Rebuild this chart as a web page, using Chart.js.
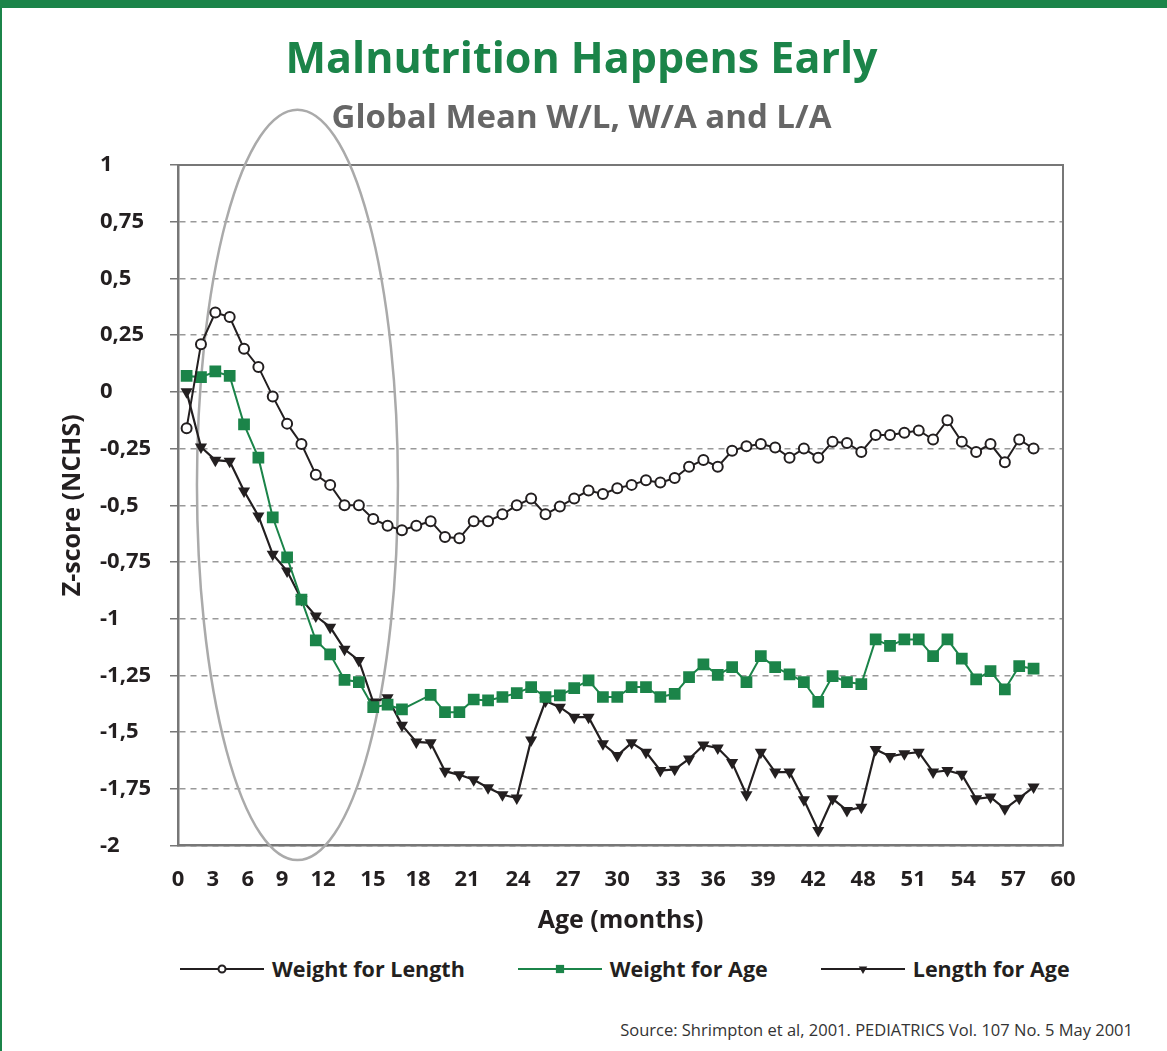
<!DOCTYPE html>
<html>
<head>
<meta charset="utf-8">
<script src="https://cdn.jsdelivr.net/npm/chart.js@4.4.1/dist/chart.umd.min.js"></script>
<style>
  body { margin: 0; background: #fff; font-family: 'Open Sans', sans-serif; }
  #page { position: relative; width: 1167px; height: 1051px; overflow: hidden;
          box-shadow: inset 2px 8px 0 0 #1b8449; }
  #wrap { position: absolute; left: 0; top: 0; width: 1167px; height: 948px; }
  #legend { position: absolute; left: 180px; top: 954px; display: flex; gap: 53px;
            font-weight: 700; font-size: 21.5px; color: #231f20; line-height: 30px; }
  .item { display: flex; align-items: center; }
  .item canvas { margin-right: 8px; }
  #source { position: absolute; right: 34px; top: 1018px; font-size: 16.5px; color: #333; }
</style>
</head>
<body>
<div id="page">
  <div id="wrap"><canvas id="myChart"></canvas></div>
  <div id="legend"></div>
  <div id="source">Source: Shrimpton et al, 2001. PEDIATRICS Vol. 107 No. 5 May 2001</div>
</div>
<script>
const ages = [0, 1, 2, 3, 4, 5, 6, 7, 8, 9, 10, 11, 12, 13, 14, 15, 16, 17, 18, 19,
  20, 21, 22, 23, 24, 25, 26, 27, 28, 29, 30, 31, 32, 33, 34, 35, 36, 37, 38, 39,
  40, 41, 42, 43, 44, 45, 46, 47, 48, 49, 50, 51, 52, 53, 54, 55, 56, 57, 58, 59];

const weightForLength = [-0.16, 0.21, 0.35, 0.33, 0.19, 0.11, -0.02, -0.14, -0.23, -0.365,
  -0.41, -0.50, -0.50, -0.56, -0.59, -0.61, -0.59, -0.57, -0.64, -0.645,
  -0.57, -0.57, -0.54, -0.50, -0.47, -0.54, -0.505, -0.47, -0.435, -0.45,
  -0.425, -0.41, -0.39, -0.40, -0.38, -0.33, -0.30, -0.33, -0.26, -0.24,
  -0.23, -0.245, -0.29, -0.25, -0.29, -0.22, -0.225, -0.265, -0.19, -0.19,
  -0.18, -0.17, -0.21, -0.125, -0.22, -0.265, -0.23, -0.31, -0.21, -0.25];

const weightForAge = [0.07, 0.065, 0.09, 0.07, -0.143, -0.29, -0.553, -0.73, -0.916, -1.095,
  -1.157, -1.269, -1.279, -1.39, -1.379, -1.40, null, -1.336, -1.412, -1.412,
  -1.356, -1.36, -1.345, -1.328, -1.301, -1.345, -1.338, -1.306, -1.272, -1.345,
  -1.345, -1.301, -1.301, -1.345, -1.331, -1.257, -1.201, -1.247, -1.213, -1.279,
  -1.165, -1.213, -1.245, -1.279, -1.367, -1.253, -1.279, -1.288, -1.091, -1.12,
  -1.091, -1.091, -1.165, -1.091, -1.176, -1.267, -1.231, -1.311, -1.209, -1.22];

const lengthForAge = [0.0, -0.243, -0.301, -0.306, -0.437, -0.547, -0.716, -0.79, -0.915, -0.988,
  -1.037, -1.135, -1.184, -1.367, -1.348, -1.469, -1.543, -1.547, -1.672, -1.688,
  -1.71, -1.745, -1.776, -1.79, -1.534, -1.363, -1.39, -1.434, -1.434, -1.551,
  -1.603, -1.547, -1.588, -1.669, -1.664, -1.618, -1.557, -1.57, -1.634, -1.776,
  -1.588, -1.676, -1.676, -1.798, -1.933, -1.794, -1.845, -1.831, -1.576, -1.607,
  -1.595, -1.588, -1.676, -1.669, -1.686, -1.794, -1.786, -1.838, -1.791, -1.742];

// x labels as printed under the axis, and where they sit on the axis
const tickLabels = ['0', '3', '6', '9', '12', '15', '18', '21', '24', '27', '30',
  '33', '36', '39', '42', '48', '51', '54', '57', '60'];
const tickPositions = [-0.6, 1.83, 4.27, 6.64, 9.5, 12.98, 16.12, 19.53, 23.09, 26.57, 29.99,
  33.54, 36.68, 40.16, 43.65, 47.13, 50.61, 54.1, 57.58, 61.05];

const GREEN = '#1b8449';
const INK = '#231f20';
const FONT = "'Open Sans', sans-serif";

const pts = vals => ages.map((a, i) => ({ x: a, y: vals[i] }));

const decor = {
  id: 'decor',
  beforeDatasetsDraw(chart, args, opts) {
    const { ctx, chartArea: a, scales: { x, y } } = chart;
    ctx.save();
    // top and right frame of the plot
    ctx.strokeStyle = '#777';
    ctx.lineWidth = 2;
    ctx.beginPath();
    ctx.moveTo(a.left, a.top);
    ctx.lineTo(a.right, a.top);
    ctx.lineTo(a.right, a.bottom);
    ctx.stroke();
    // highlight ellipse
    const cx = x.getPixelForValue(opts.cx), cy = y.getPixelForValue(opts.cy);
    const rx = x.getPixelForValue(opts.cx + opts.rx) - cx;
    const ry = y.getPixelForValue(opts.cy - opts.ry) - cy;
    ctx.strokeStyle = '#aaa';
    ctx.lineWidth = 2.5;
    ctx.beginPath();
    ctx.ellipse(cx, cy, rx, ry, 0, 0, Math.PI * 2);
    ctx.stroke();
    ctx.restore();
  },
  afterDraw(chart, args, opts) {
    const { ctx, chartArea: a } = chart;
    ctx.save();
    ctx.translate(opts.titleX, (a.top + a.bottom) / 2);
    ctx.rotate(-Math.PI / 2);
    ctx.font = 'bold 25px ' + FONT;
    ctx.fillStyle = INK;
    ctx.textAlign = 'center';
    ctx.textBaseline = 'middle';
    ctx.fillText(opts.yTitle, 0, 0);
    ctx.restore();
  }
};

const chart = new Chart(document.getElementById('myChart'), {
  type: 'line',
  data: {
    datasets: [{
      label: 'Weight for Length',
      data: pts(weightForLength),
      borderColor: INK,
      borderWidth: 2,
      pointStyle: 'circle',
      pointRadius: 5,
      pointBorderWidth: 2,
      pointBackgroundColor: '#fff',
      pointBorderColor: INK
    }, {
      label: 'Weight for Age',
      data: pts(weightForAge),
      borderColor: GREEN,
      borderWidth: 2,
      pointStyle: 'rect',
      pointRadius: 8.3,
      pointBorderWidth: 0,
      pointBackgroundColor: GREEN,
      pointBorderColor: GREEN,
      spanGaps: true
    }, {
      label: 'Length for Age',
      data: pts(lengthForAge),
      borderColor: INK,
      borderWidth: 2.2,
      pointStyle: 'triangle',
      pointRotation: 180,
      pointRadius: 7,
      pointBorderWidth: 0,
      pointBackgroundColor: INK,
      pointBorderColor: INK
    }]
  },
  options: {
    responsive: true,
    maintainAspectRatio: false,
    animation: false,
    layout: { padding: { left: 100, right: 104, top: 0, bottom: 0 } },
    elements: { line: { tension: 0 } },
    plugins: {
      legend: { display: false },
      tooltip: { enabled: false },
      title: {
        display: true,
        text: 'Malnutrition Happens Early',
        color: GREEN,
        font: { family: FONT, size: 43, weight: 'bold' },
        padding: { top: 35, bottom: 0 }
      },
      subtitle: {
        display: true,
        text: 'Global Mean W/L, W/A and L/A',
        color: '#666',
        font: { family: FONT, size: 33, weight: 'bold' },
        padding: { top: 12.5, bottom: 26.3 }
      },
      decor: { cx: 7.72, cy: -0.41, rx: 7.0, ry: 1.654, titleX: 73, yTitle: 'Z-score (NCHS)' }
    },
    scales: {
      x: {
        type: 'linear',
        min: -0.6,
        max: 61.05,
        afterBuildTicks: axis => { axis.ticks = tickPositions.map(v => ({ value: v })); },
        ticks: {
          autoSkip: false,
          maxRotation: 0,
          padding: 21,
          color: INK,
          font: { family: FONT, size: 22, weight: 'bold' },
          callback: (v, i) => tickLabels[i]
        },
        grid: { display: true, drawOnChartArea: false, drawTicks: false },
        border: { color: '#777', width: 2.5 },
        title: {
          display: true,
          text: 'Age (months)',
          color: INK,
          font: { family: FONT, size: 25, weight: 'bold' },
          padding: { top: -8, bottom: 12 }
        }
      },
      y: {
        min: -2,
        max: 1,
        afterFit: axis => { axis.width = 78; },
        ticks: {
          stepSize: 0.25,
          crossAlign: 'far',
          color: INK,
          font: { family: FONT, size: 22, weight: 'bold' },
          callback: v => String(v).replace('.', ',')
        },
        grid: { color: '#999', lineWidth: 1.5, tickLength: 8, tickColor: '#777', tickWidth: 1.5, tickBorderDash: [] },
        border: { color: '#777', width: 2.5, dash: [6, 5] }
      }
    }
  },
  plugins: [decor]
});

// legend below the chart, swatches drawn from the dataset styles
const legendBox = document.getElementById('legend');
chart.data.datasets.forEach(ds => {
  const item = document.createElement('div');
  item.className = 'item';
  const c = document.createElement('canvas');
  c.width = 84; c.height = 20;
  const g = c.getContext('2d');
  g.strokeStyle = ds.borderColor;
  g.lineWidth = ds.borderWidth;
  g.beginPath(); g.moveTo(0, 10); g.lineTo(84, 10); g.stroke();
  g.fillStyle = ds.pointBackgroundColor;
  g.strokeStyle = ds.pointBorderColor;
  g.lineWidth = ds.pointBorderWidth;
  Chart.helpers.drawPoint(g, {
    pointStyle: ds.pointStyle,
    radius: ds.pointRadius * 0.7,
    rotation: ds.pointRotation || 0,
    borderWidth: ds.pointBorderWidth
  }, 42, 10);
  const label = document.createElement('span');
  label.textContent = ds.label;
  item.appendChild(c);
  item.appendChild(label);
  legendBox.appendChild(item);
});
</script>
</body>
</html>
